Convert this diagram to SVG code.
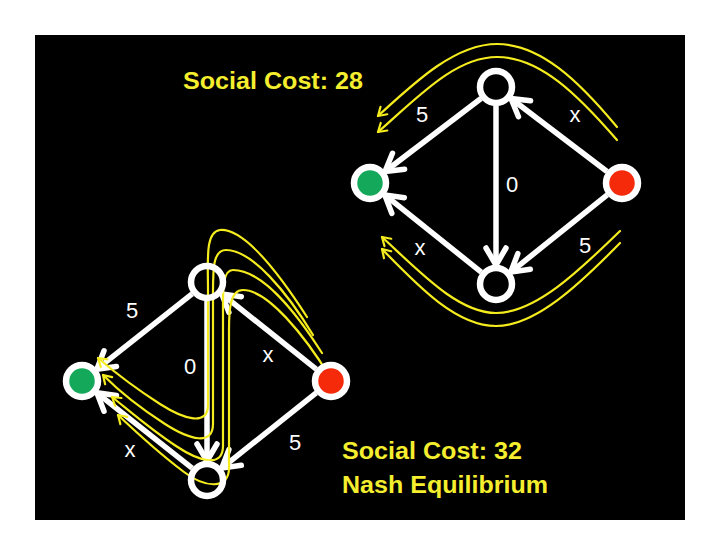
<svg xmlns="http://www.w3.org/2000/svg" width="720" height="540" viewBox="0 0 720 540">
<style>
.edge{stroke:#fff;stroke-width:5.5;fill:none;marker-end:url(#wa)}
.flow{stroke:#f5ec1e;stroke-width:2.2;fill:none;marker-end:url(#ya);stroke-linecap:round;stroke-linejoin:round}
.ring{stroke:#fff;stroke-width:6.5}
.lbl{font-family:"Liberation Sans",Arial,sans-serif;font-size:22px;fill:#fff;text-anchor:middle}
.title{font-family:"Liberation Sans",Arial,sans-serif;font-size:23px;font-weight:bold;fill:#f4ee2e}
</style>
<defs>
<marker id="wa" markerUnits="userSpaceOnUse" markerWidth="30" markerHeight="30" viewBox="-22 -15 30 30" refX="0" refY="0" orient="auto">
<path d="M-17,-10 L0,0 L-17,10" fill="none" stroke="#fff" stroke-width="5.5" stroke-linecap="round" stroke-linejoin="round"/>
</marker>
<marker id="ya" markerUnits="userSpaceOnUse" markerWidth="20" markerHeight="20" viewBox="-12 -10 20 20" refX="0" refY="0" orient="auto">
<path d="M-8,-5 L0,0 L-8,5" fill="none" stroke="#f5ec1e" stroke-width="2.2" stroke-linecap="round" stroke-linejoin="round"/>
</marker>
</defs>
<rect x="0" y="0" width="720" height="540" fill="#fff"/>
<rect x="35" y="35" width="650" height="485" fill="#000"/>

<g id="connectors">
<!-- top-right graph -->
<line class="edge" x1="481" y1="98.5" x2="385" y2="171.5"/>
<line class="edge" x1="496" y1="106" x2="496" y2="265"/>
<line class="edge" x1="607" y1="171.5" x2="511" y2="98.5"/>
<line class="edge" x1="481.2" y1="272.1" x2="384.8" y2="194.9"/>
<line class="edge" x1="607.2" y1="194.9" x2="510.8" y2="272.1"/>
<!-- bottom-left graph -->
<line class="edge" x1="192.1" y1="293.8" x2="96.9" y2="369.2"/>
<line class="edge" x1="207" y1="301" x2="207" y2="461"/>
<line class="edge" x1="316.2" y1="369.1" x2="221.8" y2="293.9"/>
<line class="edge" x1="192.1" y1="468.2" x2="96.9" y2="392.8"/>
<line class="edge" x1="316.2" y1="392.9" x2="221.8" y2="468.1"/>
</g>

<g id="flows">
<path class="flow" d="M617,127 C578,80 540,44 497,44 C455,44 415,82 378,116"/>
<path class="flow" d="M617,140 C578,95 540,57 497,57 C455,57 418,97 378,132"/>
<path class="flow" d="M620,231 C578,272 535,313 496,313 C458,313 420,272 382,237"/>
<path class="flow" d="M620,243 C578,286 535,326 496,326 C456,326 418,286 382,249"/>
<path class="flow" d="M307,317 C280,275 245,228 220,230 C205,232 208,260 208,290 L208,405 C208,426 185,420 160,404 C135,388 112,370 98,358"/>
<path class="flow" d="M313,335 C287,292 252,250 226,250 C212,250 213,272 213,300 L213,424 C213,446 190,440 165,424 C140,408 116,388 103,375"/>
<path class="flow" d="M322,353 C296,312 262,270 233,270 C222,270 223,292 223,312 L223,446 C223,468 200,462 176,446 C150,429 126,408 112,397"/>
<path class="flow" d="M330,377 C305,336 268,290 243,290 C230,290 229,310 229,330 L229,468 C229,490 205,488 184,472 C160,454 136,432 118,415"/>
</g>

<g id="node-top1"><circle class="ring" cx="496" cy="87" r="16" fill="#000"/></g>
<g id="node-bottom1"><circle class="ring" cx="496" cy="284" r="16" fill="#000"/></g>
<g id="node-green1"><circle class="ring" cx="370" cy="183" r="16" fill="#14a85a"/></g>
<g id="node-red1"><circle class="ring" cx="622" cy="183" r="16" fill="#f52a0a"/></g>

<g id="node-top2"><circle class="ring" cx="207" cy="282" r="16" fill="none"/></g>
<g id="node-bottom2"><circle class="ring" cx="207" cy="480" r="16" fill="none"/></g>
<g id="node-green2"><circle class="ring" cx="82" cy="381" r="16" fill="#14a85a"/></g>
<g id="node-red2"><circle class="ring" cx="331" cy="381" r="16" fill="#f52a0a"/></g>

<g id="labels">
<text class="lbl" x="422" y="122">5</text>
<text class="lbl" x="575" y="122">x</text>
<text class="lbl" x="512" y="192">0</text>
<text class="lbl" x="420" y="255">x</text>
<text class="lbl" x="585" y="253">5</text>
<text class="lbl" x="132" y="318">5</text>
<text class="lbl" x="190" y="374">0</text>
<text class="lbl" x="268" y="362">x</text>
<text class="lbl" x="130" y="457">x</text>
<text class="lbl" x="295" y="450">5</text>
</g>

<g id="titles">
<text class="title" x="183" y="89" textLength="180" lengthAdjust="spacingAndGlyphs">Social Cost: 28</text>
<text class="title" x="342" y="459" textLength="180" lengthAdjust="spacingAndGlyphs">Social Cost: 32</text>
<text class="title" x="342" y="493" textLength="206" lengthAdjust="spacingAndGlyphs">Nash Equilibrium</text>
</g>
</svg>
